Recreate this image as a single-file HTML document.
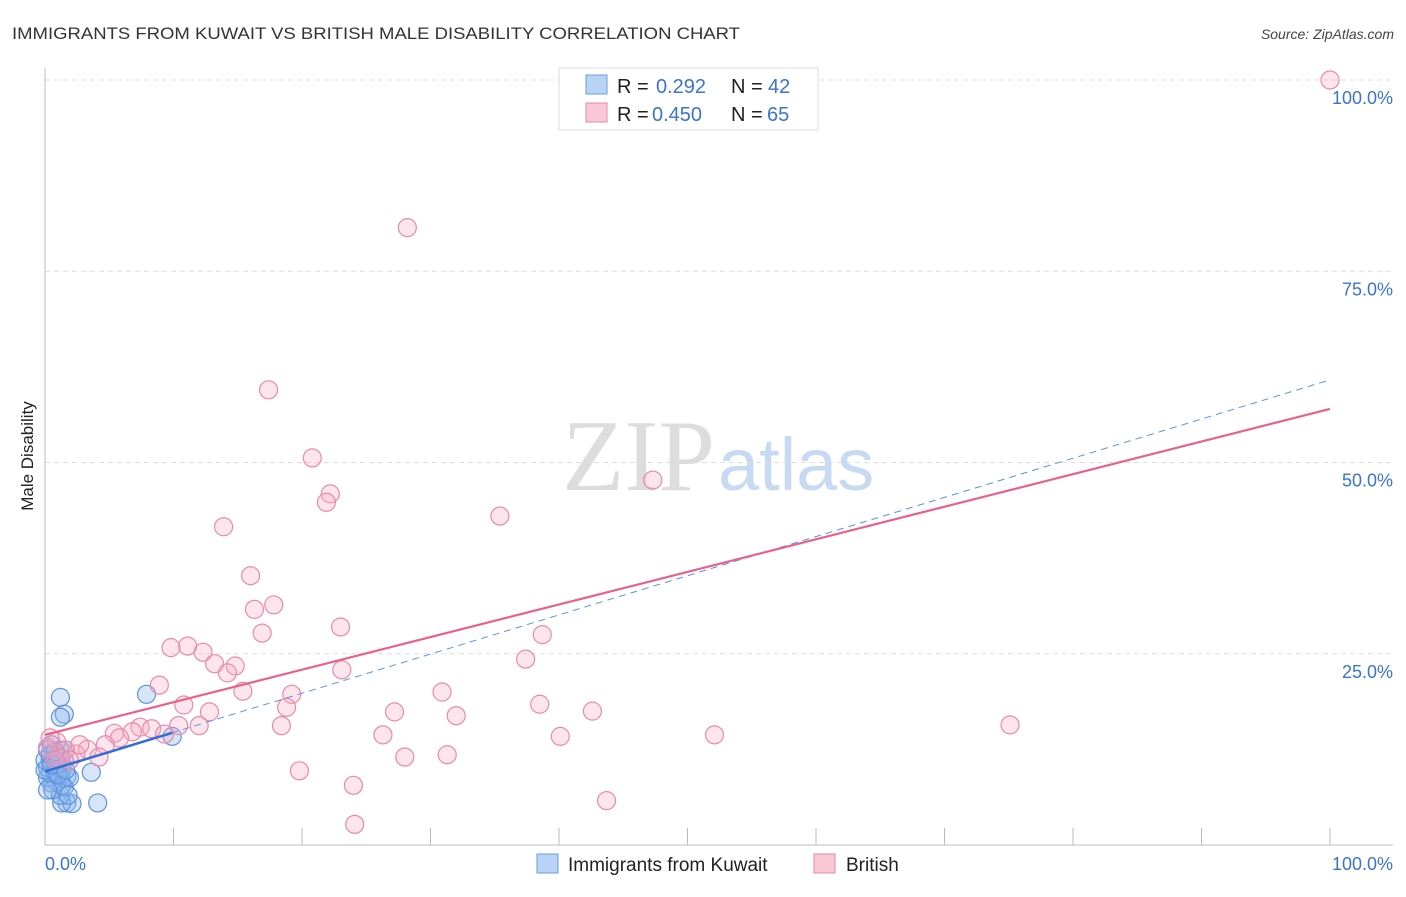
<!DOCTYPE html>
<html><head><meta charset="utf-8"><style>
body{margin:0;background:#fff;font-family:"Liberation Sans",sans-serif;}
</style></head><body>
<svg width="1406" height="892" xmlns="http://www.w3.org/2000/svg" style="font-family:'Liberation Sans',sans-serif">
<text x="12" y="39" font-size="17" fill="#333" textLength="728" lengthAdjust="spacingAndGlyphs">IMMIGRANTS FROM KUWAIT VS BRITISH MALE DISABILITY CORRELATION CHART</text>
<text x="1394" y="39" font-size="14" fill="#444" font-style="italic" text-anchor="end">Source: ZipAtlas.com</text>
<text x="715" y="490" font-size="102" fill="#ddd" text-anchor="end" font-family="Liberation Serif">ZIP</text>
<text x="718" y="490" font-size="74" fill="#c8daf2">atlas</text>
<g id="grid"></g>
<line x1="45" y1="68" x2="45" y2="845" stroke="#bbb"/>
<line x1="45" y1="845" x2="1393" y2="845" stroke="#bbb"/>
<text transform="translate(33,456) rotate(-90)" font-size="17" fill="#222" text-anchor="middle">Male Disability</text>
<text x="45" y="870" font-size="18" fill="#3a74d0">0.0%</text>
<text x="1393" y="870" font-size="18" fill="#3a74d0" text-anchor="end">100.0%</text>
<g id="pts"></g>
<g id="lines"></g>
<g>
<rect x="559" y="68" width="259" height="62" fill="#fff" stroke="#ddd"/>
<rect x="586" y="75" width="21" height="19" fill="#b9d3f5" stroke="#6b9be0"/>
<rect x="586" y="103" width="21" height="19" fill="#f9c7d6" stroke="#e88aa8"/>
<text y="93" font-size="20" fill="#222"><tspan x="617">R =</tspan><tspan x="656" fill="#3a74d0">0.292</tspan><tspan x="731">N =</tspan><tspan x="768" fill="#3a74d0">42</tspan></text>
<text y="121" font-size="20" fill="#222"><tspan x="617">R =</tspan><tspan x="652" fill="#3a74d0">0.450</tspan><tspan x="731">N =</tspan><tspan x="767" fill="#3a74d0">65</tspan></text>
</g>
<g>
<rect x="537" y="854" width="21" height="19" fill="#b9d3f5" stroke="#6b9be0"/>
<text x="568" y="871" font-size="19" fill="#222">Immigrants from Kuwait</text>
<rect x="814" y="854" width="21" height="19" fill="#f9c7d6" stroke="#e88aa8"/>
<text x="846" y="871" font-size="19" fill="#222">British</text>
</g>
</svg>
<script>
const yTicks=[25,50,75,100];
const yTickLabels=["25.0%","50.0%","75.0%","100.0%"];
const xTickVals=[10,20,30,40,50,60,70,80,90,100];
const pinkX=[100,28.2,17.4,20.8,22.2,21.9,13.9,35.4,47.3,16.0,17.8,16.3,16.9,23.0,38.7,9.8,11.1,12.3,37.4,14.8,13.2,14.2,23.1,8.9,15.4,19.2,30.9,10.8,18.8,38.5,12.8,27.2,32.0,42.6,75.1,18.4,12.0,10.4,7.4,8.3,6.8,5.4,5.8,9.3,26.3,40.1,52.1,4.7,3.3,4.2,2.4,1.6,0.9,0.4,31.3,28.0,19.8,24.0,43.7,24.1,1.2,1.9,0.2,0.8,2.7];
const pinkY=[100,80.7,59.5,50.6,45.9,44.8,41.6,43.0,47.7,35.2,31.4,30.8,27.7,28.5,27.5,25.8,26.0,25.2,24.3,23.4,23.7,22.5,22.9,20.9,20.1,19.7,20.0,18.3,18.0,18.4,17.4,17.4,16.9,17.5,15.7,15.6,15.6,15.6,15.4,15.2,14.8,14.6,14.0,14.5,14.4,14.2,14.4,13.1,12.5,11.5,11.9,12.4,13.5,14.0,11.8,11.5,9.7,7.8,5.8,2.7,11.4,11.1,12.7,11.1,13.1];
const blueX=[1.2,1.5,1.2,7.9,9.9,3.6,4.1,1.7,2.1,1.3,1.2,1.5,0.9,0.5,1.7,1.2,0.4,0.2,0.8,1.3,0.4,0.2,0.5,1.0,1.5,1.9,0.2,0.8,0,1.2,0.6,1.6,0,0.4,0.9,1.3,1.8,0.2,1.0,0.5,1.6,0.8];
const blueY=[19.3,17.1,16.7,19.7,14.2,9.5,5.5,5.5,5.4,5.5,6.5,7.6,8.2,8.1,9.0,9.0,9.4,10.1,10.5,9.8,11.1,12.4,13.1,11.5,11.0,8.8,8.8,9.5,9.8,12.4,7.2,12.4,11.1,11.8,10.5,7.8,6.5,7.2,9.2,10.5,9.8,12.2];
const pinkFit=[14.4,0.426];
const blueFit=[9.6,0.512];
const NS="http://www.w3.org/2000/svg";
const X=v=>45+v*12.85, Y=v=>845-v*7.65;
function mk(t,a,p){const e=document.createElementNS(NS,t);for(const k in a)e.setAttribute(k,a[k]);p.appendChild(e);return e;}
const grid=document.getElementById('grid');
const svg=grid.ownerSVGElement;
yTicks.forEach((v,i)=>{
 const l=mk('line',{x1:45,x2:1393,y1:Y(v),y2:Y(v),stroke:'#ddd','stroke-dasharray':'5,4'},grid);
 
 
 const t=mk('text',{x:1393,y:Y(v)+24,'font-size':18,fill:'#3a74d0','text-anchor':'end'},svg);
 t.textContent=yTickLabels[i];
 
 
});
xTickVals.forEach(v=>{
 const l=mk('line',{x1:X(v),x2:X(v),y1:828,y2:845,stroke:'#bbb'},grid);
 
 
});
const pts=document.getElementById('pts');
blueX.forEach((v,i)=>{
 const c=mk('circle',{cx:X(v),cy:Y(blueY[i]),r:9,fill:'rgba(140,180,235,0.35)',stroke:'#5b93e0','stroke-width':1.2},pts);
 
 
});
pinkX.forEach((v,i)=>{
 const c=mk('circle',{cx:X(v),cy:Y(pinkY[i]),r:9,fill:'rgba(245,170,195,0.3)',stroke:'#ea8aa8','stroke-width':1.2},pts);
 
 
});
const lines=document.getElementById('lines');
const bd=mk('line',{x1:X(0),y1:Y(blueFit[0]),x2:X(100),y2:Y(blueFit[0]+blueFit[1]*100),stroke:'#5b93e0','stroke-width':1,'stroke-dasharray':'7,5'},lines);


const bs=mk('line',{x1:X(0),y1:Y(blueFit[0]),x2:X(9.9),y2:Y(blueFit[0]+blueFit[1]*9.9),stroke:'#2f6fd6','stroke-width':2.5},lines);


const ps=mk('line',{x1:X(0),y1:Y(pinkFit[0]),x2:X(100),y2:Y(pinkFit[0]+pinkFit[1]*100),stroke:'#e8608c','stroke-width':2.2},lines);


</script>
</body></html>
